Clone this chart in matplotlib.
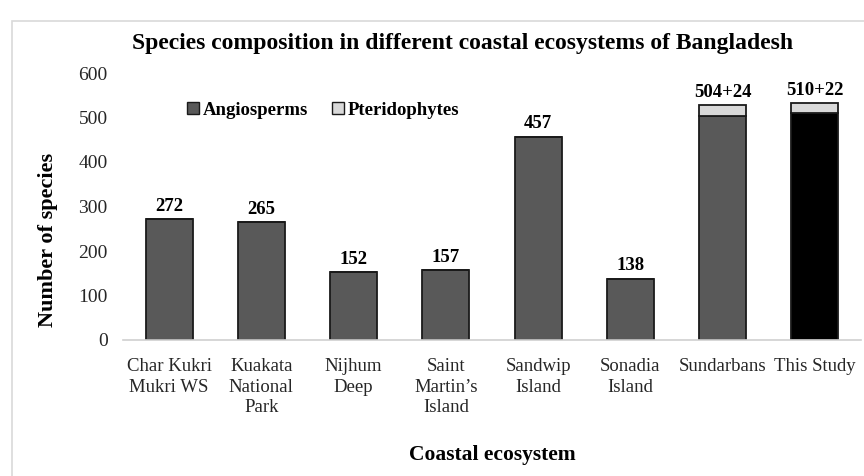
import matplotlib
matplotlib.use("Agg")
import matplotlib.pyplot as plt
from matplotlib.patches import Rectangle
from matplotlib.lines import Line2D

categories = ["Char Kukri\nMukri WS", "Kuakata\nNational\nPark", "Nijhum\nDeep",
              "Saint\nMartin\u2019s\nIsland", "Sandwip\nIsland", "Sonadia\nIsland",
              "Sundarbans", "This Study"]
angiosperms = [272, 265, 152, 157, 457, 138, 504, 510]
pteridophytes = [0, 0, 0, 0, 0, 0, 24, 22]
value_labels = ["272", "265", "152", "157", "457", "138", "504+24", "510+22"]
yticks = [0, 100, 200, 300, 400, 500, 600]

plt.rcParams['font.family'] = ['Liberation Serif', 'DejaVu Serif']

fig = plt.figure(figsize=(8.64, 4.76), dpi=100)
ax = fig.add_axes([123/864, 1 - 340/476, 738/864, 267/476])

x = list(range(len(categories)))
angio_colors = ['#595959'] * 7 + ['#000000']
ax.bar(x, angiosperms, width=0.51, color=angio_colors, edgecolor='#1a1a1a', linewidth=1.3, zorder=2)
ax.bar(x, pteridophytes, width=0.51, bottom=angiosperms, color='#d9d9d9',
       edgecolor='#1a1a1a', linewidth=1.3, zorder=2)

for xi, a, p, lab in zip(x, angiosperms, pteridophytes, value_labels):
    ax.annotate(lab, (xi, a + p), xytext=(0, 3), textcoords='offset points',
                ha='center', va='bottom', fontsize=13.5, fontweight='bold')

ax.set_xlim(-0.5, 7.5)
ax.set_ylim(0, 600)
ax.set_yticks(yticks)
ax.set_xticks(x)
ax.set_xticklabels(categories, fontsize=13.5, linespacing=1.27)
ax.tick_params(axis='y', length=0, pad=11, labelsize=14, labelcolor='#262626')
ax.tick_params(axis='x', length=0, pad=13, labelcolor='#262626')
for s in ['top', 'right', 'left']:
    ax.spines[s].set_visible(False)
ax.spines['bottom'].set_color('#d0d0d0')
ax.spines['bottom'].set_linewidth(1.2)

ax.set_ylabel("Number of species", fontsize=16, fontweight='bold')
ax.yaxis.set_label_coords(-0.088, 0.375)
ax.set_xlabel("Coastal ecosystem", fontsize=15.5, fontweight='bold')
ax.xaxis.set_label_coords(0.5, -0.395)

fig.text(463/864, 1 - 44/476, "Species composition in different coastal ecosystems of Bangladesh",
         ha='center', va='center', fontsize=17, fontweight='bold')

handles = [Line2D([], [], marker='s', linestyle='none', markersize=9,
                  markerfacecolor='#595959', markeredgecolor='#1a1a1a'),
           Line2D([], [], marker='s', linestyle='none', markersize=9,
                  markerfacecolor='#d9d9d9', markeredgecolor='#1a1a1a')]
leg = ax.legend(handles, ["Angiosperms", "Pteridophytes"], ncol=2, frameon=False,
                loc='center left', bbox_to_anchor=(0.063, 0.861),
                handlelength=0.7, handletextpad=0.2, columnspacing=1.2,
                prop={'weight': 'bold', 'size': 13.5})

fig.patches.append(Rectangle((12/864, -0.01), 1.0, 1 - 21/476 + 0.01,
                             transform=fig.transFigure, fill=False,
                             edgecolor='#d9d9d9', linewidth=1.2))

fig.savefig("out.png", dpi=100)
